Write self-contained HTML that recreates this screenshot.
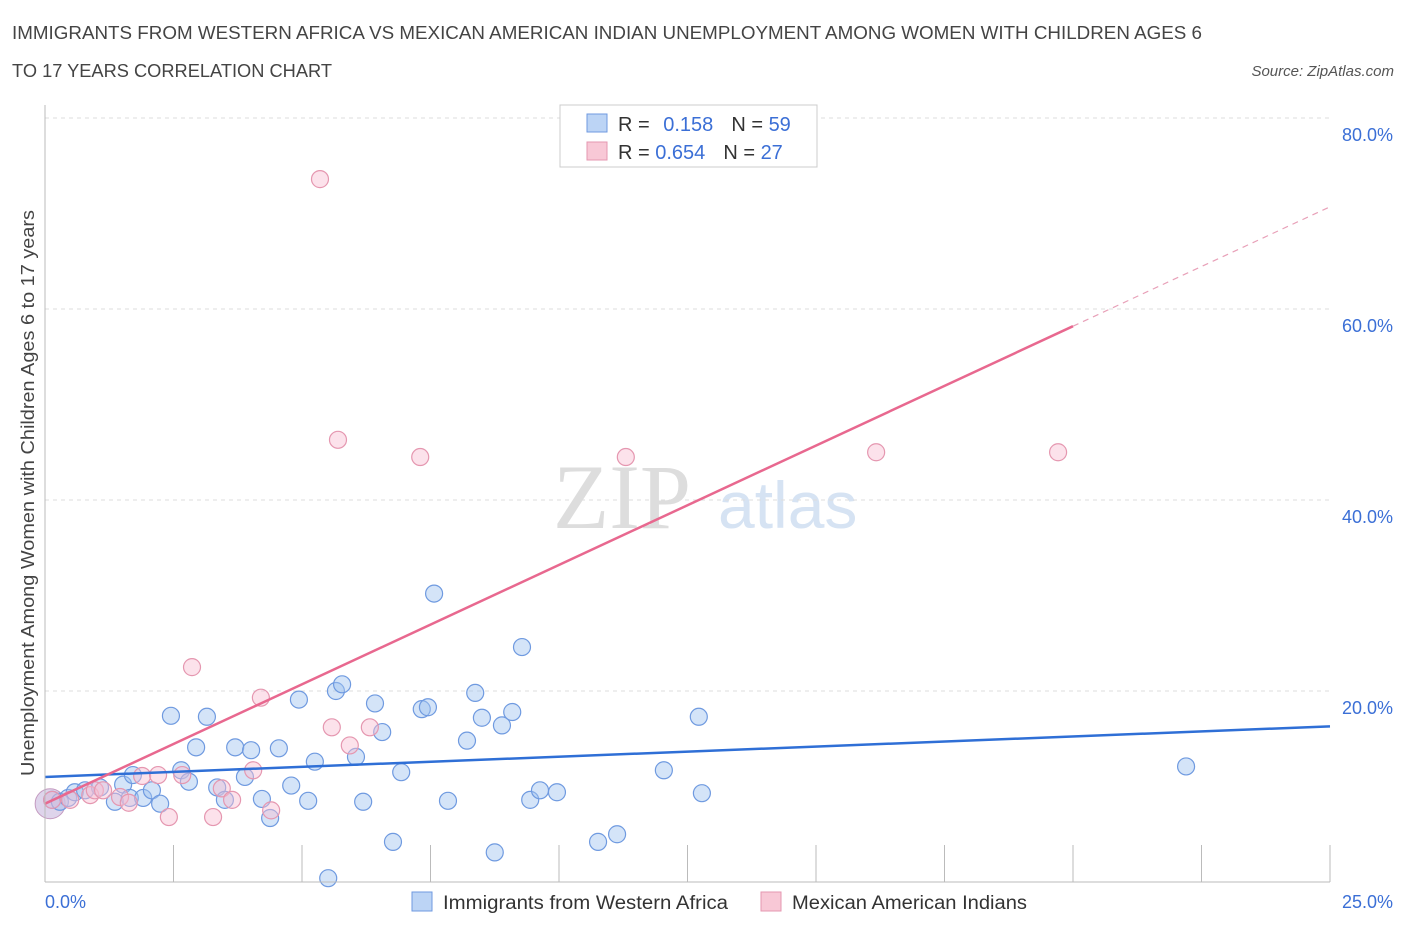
<!DOCTYPE html>
<html><head><meta charset="utf-8"><style>
body{margin:0;background:#fff;font-family:"Liberation Sans",sans-serif}
</style></head><body>
<svg width="1406" height="930" xmlns="http://www.w3.org/2000/svg" id="chart">
<text x="12" y="39" font-size="18.5" fill="#444" textLength="1190" lengthAdjust="spacingAndGlyphs">IMMIGRANTS FROM WESTERN AFRICA VS MEXICAN AMERICAN INDIAN UNEMPLOYMENT AMONG WOMEN WITH CHILDREN AGES 6</text>
<text x="12" y="77" font-size="18.5" fill="#444" textLength="320" lengthAdjust="spacingAndGlyphs">TO 17 YEARS CORRELATION CHART</text>
<text x="1394" y="76" font-size="15" fill="#555" font-style="italic" text-anchor="end">Source: ZipAtlas.com</text>
<text x="553" y="528" font-size="92" fill="#ddd" font-family="Liberation Serif,serif">ZIP</text>
<text x="718" y="528" font-size="66" fill="#d6e3f3">atlas</text>
<text transform="translate(34,776) rotate(-90)" font-size="18.5" fill="#444" textLength="566" lengthAdjust="spacingAndGlyphs">Unemployment Among Women with Children Ages 6 to 17 years</text>
<g id="grid"></g><g id="pts"></g><g id="lines"></g>
<line x1="45" y1="105" x2="45" y2="882" stroke="#bbb"/>
<line x1="45" y1="882" x2="1330" y2="882" stroke="#bbb"/>
<text x="45" y="908" font-size="18" fill="#3b6fd6">0.0%</text>
<text x="1393" y="908" font-size="18" fill="#3b6fd6" text-anchor="end">25.0%</text>
<g>
<rect x="560" y="105" width="257" height="62" fill="#fff" stroke="#ccc"/>
<rect x="587" y="114" width="20" height="18" fill="#bcd4f5" stroke="#6f9ae0"/>
<rect x="587" y="142" width="20" height="18" fill="#f8c8d6" stroke="#e597b0"/>
<text x="618" y="131" font-size="20" fill="#333">R = <tspan fill="#3b6fd6" dx="8">0.158</tspan><tspan dx="18" fill="#333">N = </tspan><tspan fill="#3b6fd6">59</tspan></text>
<text x="618" y="159" font-size="20" fill="#333">R = <tspan fill="#3b6fd6">0.654</tspan><tspan dx="18" fill="#333">N = </tspan><tspan fill="#3b6fd6">27</tspan></text>
</g>
<g>
<rect x="412" y="892" width="20" height="19" fill="#bcd4f5" stroke="#6f9ae0"/>
<text x="443" y="909" font-size="19" fill="#333" textLength="285" lengthAdjust="spacingAndGlyphs">Immigrants from Western Africa</text>
<rect x="761" y="892" width="20" height="19" fill="#f8c8d6" stroke="#e597b0"/>
<text x="792" y="909" font-size="19" fill="#333" textLength="235" lengthAdjust="spacingAndGlyphs">Mexican American Indians</text>
</g>
</svg>
<script>
const yTicks=[20,40,60,80];
const yTickLabels=["20.0%","40.0%","60.0%","80.0%"];
const xTicks=[2.5,5,7.5,10,12.5,15,17.5,20,22.5,25];
const blueX=[0.14,0.29,0.45,0.58,0.78,1.07,1.36,1.52,1.65,1.71,1.91,2.08,2.24,2.45,2.65,2.80,2.94,3.15,3.35,3.50,3.70,3.89,4.01,4.22,4.38,4.55,4.79,4.94,5.12,5.25,5.51,5.66,5.78,6.05,6.19,6.42,6.56,6.77,6.93,7.33,7.45,7.57,7.84,8.21,8.37,8.50,8.75,8.89,9.09,9.28,9.44,9.63,9.96,10.76,11.13,12.04,12.72,12.78,22.2];
const blueY=[8.6,8.4,8.8,9.4,9.6,9.9,8.4,10.2,8.8,11.2,8.8,9.6,8.2,17.4,11.7,10.5,14.1,17.3,9.9,8.6,14.1,11.0,13.8,8.7,6.7,14.0,10.1,19.1,8.5,12.6,0.4,20.0,20.7,13.1,8.4,18.7,15.7,4.2,11.5,18.1,18.3,30.2,8.5,14.8,19.8,17.2,3.1,16.4,17.8,24.6,8.6,9.6,9.4,4.2,5.0,11.7,17.3,9.3,12.1];
const pinkX=[0.14,0.49,0.88,0.97,1.13,1.46,1.63,1.89,2.20,2.41,2.67,2.86,3.27,3.44,3.64,4.05,4.20,4.40,5.35,5.58,5.70,5.93,6.32,7.30,11.30,16.17,19.71];
const pinkY=[8.6,8.6,9.1,9.6,9.6,8.9,8.3,11.1,11.2,6.8,11.2,22.5,6.8,9.8,8.6,11.7,19.3,7.5,73.6,16.2,46.3,14.3,16.2,44.5,44.5,45.0,45.0];
const blueLine=[0,11.0,25,16.3];
const pinkLine=[0,8.2,20,58.2,25,70.7];
const NS="http://www.w3.org/2000/svg";
const X=v=>45+v*51.4, Y=v=>882-v*9.55;
function mk(t,a,p){const e=document.createElementNS(NS,t);for(const k in a)e.setAttribute(k,a[k]);p.appendChild(e);return e;}
const grid=document.getElementById('grid');
yTicks.forEach((t,i)=>{
 const l=mk('line',{x1:45,x2:1330,y1:Y(t),y2:Y(t),stroke:'#ddd','stroke-dasharray':'4,4'},grid);
 
 
 const tx=mk('text',{x:1393,y:Y(t)+23,'font-size':18,fill:'#3b6fd6','text-anchor':'end'},grid);
 tx.textContent=yTickLabels[i];
 
 
});
xTicks.forEach(t=>{
 const l=mk('line',{x1:X(t),x2:X(t),y1:845,y2:882,stroke:'#bbb'},grid);
 
 
});
const pts=document.getElementById('pts');
const big=mk('circle',{cx:X(0.1),cy:Y(8.2),r:15,fill:'rgba(190,170,215,0.5)',stroke:'#c49ac0'},pts);


blueX.forEach((x,i)=>{
 const c=mk('circle',{cx:X(x),cy:Y(blueY[i]),r:8.5,fill:'rgba(160,195,240,0.45)',stroke:'#6f9ae0','stroke-width':1.2},pts);
 
 
});
pinkX.forEach((x,i)=>{
 const c=mk('circle',{cx:X(x),cy:Y(pinkY[i]),r:8.5,fill:'rgba(248,190,210,0.45)',stroke:'#e597b0','stroke-width':1.2},pts);
 
 
});
const lines=document.getElementById('lines');
const bl=mk('line',{x1:X(blueLine[0]),y1:Y(blueLine[1]),x2:X(blueLine[2]),y2:Y(blueLine[3]),stroke:'#2f6fd6','stroke-width':2.5},lines);


const pl=mk('line',{x1:X(pinkLine[0]),y1:Y(pinkLine[1]),x2:X(pinkLine[2]),y2:Y(pinkLine[3]),stroke:'#e8688f','stroke-width':2.5},lines);


const pd=mk('line',{x1:X(pinkLine[2]),y1:Y(pinkLine[3]),x2:X(pinkLine[4]),y2:Y(pinkLine[5]),stroke:'#e8a0b8','stroke-width':1.2,'stroke-dasharray':'6,5'},lines);


</script>
</body></html>
